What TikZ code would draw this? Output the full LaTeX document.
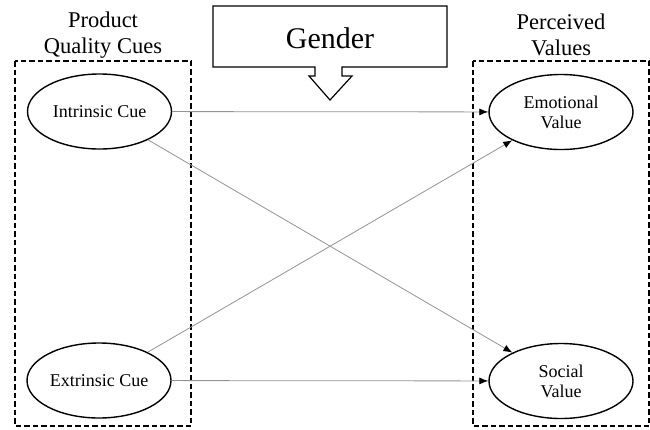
\documentclass[tikz,border=0pt]{standalone}
\usepackage{fontspec}
\setmainfont{Liberation Serif}
\usetikzlibrary{shapes.geometric,arrows.meta}
\begin{document}
\begin{tikzpicture}[x=1pt,y=1pt,
  cue/.style={draw, line width=1.4pt, ellipse, minimum width=144pt, minimum height=75pt, inner sep=0pt, align=center, font=\fontsize{18}{20}\selectfont},
  groupbox/.style={draw, line width=1.5pt, dash pattern=on 5.5pt off 3pt},
  title/.style={align=center, font=\fontsize{22.5}{26}\selectfont},
  link/.style={draw=gray!85, line width=0.8pt, -{Latex[length=9pt,width=7pt,color=black]}}]
\useasboundingbox (0,0) rectangle (650,-429);
% dashed group boxes
\draw[groupbox] (15,-61) rectangle (191,-426);
\draw[groupbox] (473,-61) rectangle (649,-426);
% titles
\node[title] (t1) at (103,-35) {Product\\Quality Cues};
\node[title] (t2) at (561,-35) {Perceived\\Values};
% gender callout
\draw[line width=1.2pt] (213,-6) -- (447,-6) -- (447,-67) -- (342,-67) -- (342,-76) -- (352,-76) -- (330,-100) -- (309,-76) -- (315,-76) -- (315,-67) -- (213,-67) -- cycle;
\node[font=\fontsize{30}{34}\selectfont] (g) at (330,-38) {Gender};
% ellipses
\node[cue] (ic) at (99.5,-111.5) {Intrinsic Cue};
\node[cue] (ec) at (99,-380.5) {Extrinsic Cue};
\node[cue] (ev) at (561,-112) {Emotional\\Value};
\node[cue] (sv) at (561,-381) {Social\\Value};
% connectors
\draw[link] (ic) -- (ev);
\draw[link] (ic) -- (sv);
\draw[link] (ec) -- (ev);
\draw[link] (ec) -- (sv);
\end{tikzpicture}
\end{document}
